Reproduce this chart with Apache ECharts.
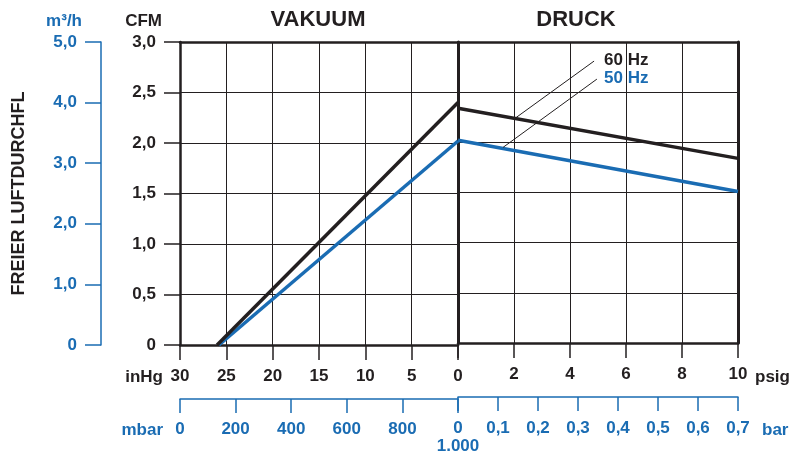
<!DOCTYPE html>
<html>
<head>
<meta charset="utf-8">
<script src="https://cdn.jsdelivr.net/npm/echarts@6/dist/echarts.min.js"></script>
<style>
  html, body { margin: 0; padding: 0; background: #fff; }
  #main { width: 794px; height: 455px; }
</style>
</head>
<body>
<div id="main"></div>
<script>
const font = "'Liberation Sans', Arial, sans-serif";
const black = '#231f20';
const blue = '#1a6cb3';

// axis ranges
const cfmMax = 3, cfmStep = 0.5;
const m3hMax = 5, m3hStep = 1;
const inHgMax = 30, inHgStep = 5;
const psigMax = 10, psigStep = 2;
const mbarMax = 1000, mbarStep = 200;
const barMax = 0.7, barStep = 0.1;

// vacuum side: [inHg, CFM]
const vakuum60 = [[26, 0], [0, 2.40]];
const vakuum50 = [[25.8, 0], [0, 2.02]];
// pressure side: [psig, CFM]
const druck60 = [[0, 2.34], [10, 1.84]];
const druck50 = [[0, 2.02], [10, 1.51]];
// leader lines from the legend text to the curves: [psig, CFM]
const leader60 = [[4.86, 2.81], [2.04, 2.24]];
const leader50 = [[4.96, 2.63], [1.61, 1.95]];

const comma = v => v === 0 ? '0' : v.toFixed(1).replace('.', ',');

const labelStyle = (color) => ({
  color: color, fontFamily: font, fontWeight: 'bold', fontSize: 17
});

const chart = echarts.init(document.getElementById('main'));

const hiddenAxis = (gridIndex, position, width) => ({
  type: 'value', gridIndex: gridIndex, position: position, min: 0, max: 1,
  axisLine: {show: true, onZero: false, lineStyle: {color: black, width: width}},
  axisTick: {show: false}, axisLabel: {show: false}, splitLine: {show: false}
});

const option = {
  animation: false,
  grid: [
    {left: 180, top: 42, width: 278, height: 303},
    {left: 458, top: 42, width: 280, height: 303}
  ],
  xAxis: [
    { // 0: inHg
      type: 'value', gridIndex: 0, position: 'bottom', inverse: true,
      min: 0, max: inHgMax, interval: inHgStep,
      axisLine: {onZero: false, lineStyle: {color: black, width: 2.5}},
      axisTick: {length: 15, lineStyle: {color: black, width: 1.5}},
      axisLabel: Object.assign({margin: 23}, labelStyle(black)),
      splitLine: {show: true, lineStyle: {color: black, width: 1}}
    },
    { // 1: mbar
      type: 'value', gridIndex: 0, position: 'bottom', offset: 54,
      min: 0, max: mbarMax, interval: mbarStep,
      axisLine: {onZero: false, lineStyle: {color: blue, width: 1.5}},
      axisTick: {length: 14, lineStyle: {color: blue, width: 1.5}},
      axisLabel: Object.assign({margin: 22, formatter: v => v === mbarMax ? '' : String(v)}, labelStyle(blue)),
      splitLine: {show: false}
    },
    { // 2: psig
      type: 'value', gridIndex: 1, position: 'bottom',
      min: 0, max: psigMax, interval: psigStep,
      axisLine: {onZero: false, lineStyle: {color: black, width: 2.5}},
      axisTick: {length: 15, lineStyle: {color: black, width: 1.5}},
      axisLabel: Object.assign({margin: 23, formatter: v => v === 0 ? '' : String(v)}, labelStyle(black)),
      splitLine: {show: true, lineStyle: {color: black, width: 1}}
    },
    { // 3: bar
      type: 'value', gridIndex: 1, position: 'bottom', offset: 54,
      min: 0, max: barMax, interval: barStep,
      axisLine: {onZero: false, lineStyle: {color: blue, width: 1.5}},
      axisTick: {length: 14, lineStyle: {color: blue, width: 1.5}},
      axisLabel: Object.assign({
        margin: 22, lineHeight: 18,
        formatter: v => v === 0 ? '0\n1.000' : v.toFixed(1).replace('.', ',')
      }, labelStyle(blue)),
      splitLine: {show: false}
    },
    hiddenAxis(0, 'top', 2.5),
    hiddenAxis(1, 'top', 2.5)
  ],
  yAxis: [
    { // 0: CFM
      type: 'value', gridIndex: 0, position: 'left',
      min: 0, max: cfmMax, interval: cfmStep,
      axisLine: {onZero: false, lineStyle: {color: black, width: 2.5}},
      axisTick: {length: 16, lineStyle: {color: black, width: 1.5}},
      axisLabel: Object.assign({margin: 24, formatter: comma}, labelStyle(black)),
      splitLine: {show: true, lineStyle: {color: black, width: 1}}
    },
    { // 1: CFM, pressure side
      type: 'value', gridIndex: 1, position: 'left',
      min: 0, max: cfmMax, interval: cfmStep,
      axisLine: {show: true, onZero: false, lineStyle: {color: black, width: 3}},
      axisTick: {show: false}, axisLabel: {show: false},
      splitLine: {show: true, lineStyle: {color: black, width: 1}}
    },
    { // 2: m3/h
      type: 'value', gridIndex: 0, position: 'left', offset: 79,
      min: 0, max: m3hMax, interval: m3hStep,
      name: 'FREIER LUFTDURCHFL', nameLocation: 'middle', nameRotate: 90, nameGap: 73,
      nameTextStyle: {color: black, fontFamily: font, fontWeight: 'bold', fontSize: 18},
      axisLine: {show: true, onZero: false, lineStyle: {color: blue, width: 1.5}},
      axisTick: {show: true, length: 16, lineStyle: {color: blue, width: 1.5}},
      axisLabel: Object.assign({margin: 24, formatter: comma}, labelStyle(blue)),
      splitLine: {show: false}
    },
    Object.assign(hiddenAxis(1, 'right', 3), {max: cfmMax})
  ],
  graphic: [
    {type: 'text', x: 318, y: 20, style: {text: 'VAKUUM', font: 'bold 22px ' + font, fill: black, align: 'center', verticalAlign: 'middle'}},
    {type: 'text', x: 576, y: 20, style: {text: 'DRUCK', font: 'bold 22px ' + font, fill: black, align: 'center', verticalAlign: 'middle'}},
    {type: 'text', x: 162, y: 21, style: {text: 'CFM', font: 'bold 17px ' + font, fill: black, align: 'right', verticalAlign: 'middle'}},
    {type: 'text', x: 82, y: 21, style: {text: 'm³/h', font: 'bold 17px ' + font, fill: blue, align: 'right', verticalAlign: 'middle'}},
    {type: 'text', x: 163, y: 377, style: {text: 'inHg', font: 'bold 17px ' + font, fill: black, align: 'right', verticalAlign: 'middle'}},
    {type: 'text', x: 755, y: 377, style: {text: 'psig', font: 'bold 17px ' + font, fill: black, align: 'left', verticalAlign: 'middle'}},
    {type: 'text', x: 163, y: 430, style: {text: 'mbar', font: 'bold 17px ' + font, fill: blue, align: 'right', verticalAlign: 'middle'}},
    {type: 'text', x: 762, y: 430, style: {text: 'bar', font: 'bold 17px ' + font, fill: blue, align: 'left', verticalAlign: 'middle'}},
    {type: 'text', x: 604, y: 60, style: {text: '60 Hz', font: 'bold 17px ' + font, fill: black, align: 'left', verticalAlign: 'middle'}},
    {type: 'text', x: 604, y: 78, style: {text: '50 Hz', font: 'bold 17px ' + font, fill: blue, align: 'left', verticalAlign: 'middle'}}
  ],
  series: [
    {
      name: '50 Hz', type: 'line', xAxisIndex: 0, yAxisIndex: 0, data: vakuum50,
      symbol: 'none', lineStyle: {color: blue, width: 3.5}, z: 3
    },
    {
      name: '60 Hz', type: 'line', xAxisIndex: 0, yAxisIndex: 0, data: vakuum60,
      symbol: 'none', lineStyle: {color: black, width: 3.5}, z: 4
    },
    {
      name: '50 Hz', type: 'line', xAxisIndex: 2, yAxisIndex: 1, data: druck50,
      symbol: 'none', lineStyle: {color: blue, width: 3.5}, z: 3,
      markLine: {
        silent: true, symbol: ['none', 'none'], label: {show: false},
        lineStyle: {color: black, width: 1, type: 'solid'},
        data: [[{coord: leader50[0]}, {coord: leader50[1]}]]
      }
    },
    {
      name: '60 Hz', type: 'line', xAxisIndex: 2, yAxisIndex: 1, data: druck60,
      symbol: 'none', lineStyle: {color: black, width: 3.5}, z: 4,
      markLine: {
        silent: true, symbol: ['none', 'none'], label: {show: false},
        lineStyle: {color: black, width: 1, type: 'solid'},
        data: [[{coord: leader60[0]}, {coord: leader60[1]}]]
      }
    }
  ]
};

chart.setOption(option);
</script>
</body>
</html>
